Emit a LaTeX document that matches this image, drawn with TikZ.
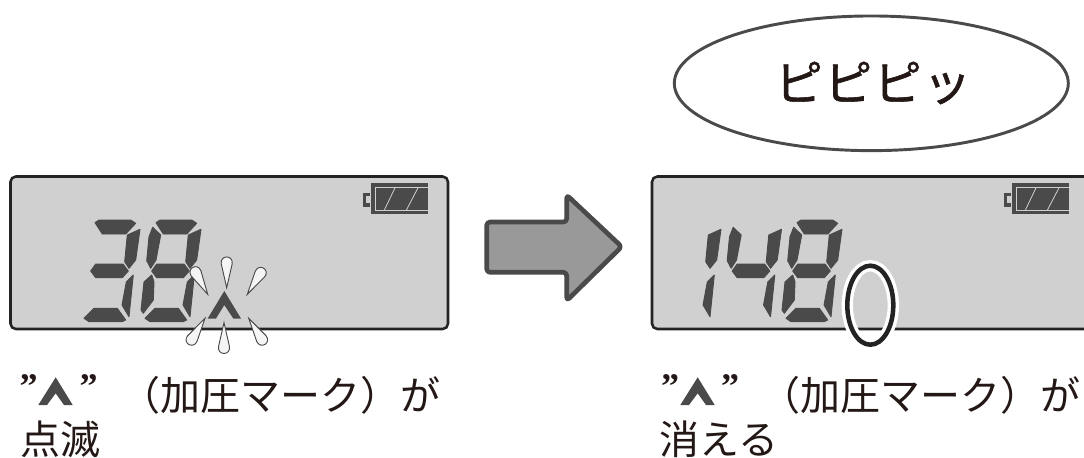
\documentclass[tikz,border=0pt]{standalone}
\usepackage{fontspec}
\usetikzlibrary{shapes.geometric}
\newfontfamily\jpfont{Noto Sans CJK JP}
\newfontfamily\jpbeep[FakeBold=1.2,LetterSpace=3]{Noto Sans CJK JP}
\newfontfamily\quotefont{Liberation Serif}

% Сегменты цифры (координаты в пикселях)
\def\segT{(156,222.7)--(160,220)--(191.7,220)--(196.7,223.3)--(186.7,234)--(163.3,234)--cycle}
\def\segUL{(152.7,227.3)--(160.7,235)--(156,260)--(150.7,268.3)--(146.7,260.7)--(149,236.7)--cycle}
\def\segUR{(201,229.3)--(196.7,260)--(190,268.3)--(185.7,261.7)--(188.3,235)--cycle}
\def\segM{(151.7,271)--(156.7,264)--(184,264)--(189.3,271)--(183.3,277.7)--(156.7,277.7)--cycle}
\def\segLL{(151.7,275)--(154,282)--(153.3,300)--(143.3,313.3)--(141,310)--(144,282)--cycle}
\def\segLR{(194.3,275)--(190,316.7)--(183,305)--(187.3,282)--cycle}
\def\segB{(145,318.3)--(155,308.3)--(178.3,308.3)--(186.7,320)--(183,321.7)--(150,321.7)--cycle}
\newcommand{\lcddigit}[2]{\foreach \s in {#2} \filldraw[lcdseg,shift={(#1,0)}] \csname seg\s\endcsname;}

\begin{document}
\begin{tikzpicture}[x=0.75pt,y=-0.75pt,
    lcdseg/.style={fill=lcddark,draw=lcddark,line width=0.7pt,line join=round},
    lcdpanel/.style={draw=linedark,line width=1.9pt,fill=lcdgray,rounded corners=4pt},
    label/.style={anchor=west,inner sep=0pt,text=textdark,font=\jpfont\fontsize{30pt}{30pt}\selectfont},
    quotemark/.style={inner sep=0pt,text=textdark,font=\quotefont\bfseries\fontsize{27pt}{27pt}\selectfont},
    dropmark/.style={draw=lcddark,line width=0.7pt,fill=dropwhite}]

    \definecolor{lcdgray}{RGB}{208,208,208}
    \definecolor{lcddark}{RGB}{74,74,74}
    \definecolor{linedark}{RGB}{35,35,35}
    \definecolor{textdark}{RGB}{35,24,21}
    \definecolor{dropwhite}{RGB}{245,245,245}
    \definecolor{arrowgray}{RGB}{153,153,153}

    \clip (0,0) rectangle (1084,457);

    % Левый дисплей
    \draw[lcdpanel] (10.5,176.5) rectangle (448,329);
    \lcddigit{-61}{T,UR,M,LR,B}
    \lcddigit{0}{T,UL,UR,M,LL,LR,B}

    % Правый дисплей
    \draw[lcdpanel] (652,176.5) rectangle (1110,329);
    \lcddigit{520}{UR,LR}
    \lcddigit{580.5}{UL,UR,M,LR}
    \lcddigit{641}{T,UL,UR,M,LL,LR,B}

    % Батарея
    \foreach \dx in {0,641} {
        \begin{scope}[shift={(\dx,0)}]
            \fill[lcddark] (371,183.3) rectangle (428,214.3);
            \fill[lcddark] (363.3,192.7) rectangle (370,206.7);
            \fill[lcdgray] (366,196) rectangle (370,203);
            \draw[lcdgray,line width=0.6pt] (428,187.8) -- (375,187.8) -- (375,210.8) -- (428,210.8);
            \draw[lcdgray,line width=0.6pt] (384,210.8) -- (395,187.8);
            \draw[lcdgray,line width=0.6pt] (406,210.8) -- (418,187.8);
        \end{scope}
    }

    % Значок и вспышки
    \fill[lcddark] (224.3,291) -- (241,318.5) -- (233.3,318.5) -- (224.3,305) -- (216,318.5) -- (207.7,318.5) -- cycle;
    \foreach \tx/\ty/\ang in {207.7/294.3/119,226.7/287.7/90,247.3/294.3/58,205/318.3/238,224/322.7/270,248.7/318.3/302}
        \draw[dropmark,shift={(\tx,\ty)},rotate=\ang] (0,0) -- (24,5.5) .. controls (33,6.5) and (33,-6.5) .. (24,-5.5) -- cycle;

    % Овал на дисплее
    \draw[white,line width=8.5pt] (870.3,305.2) ellipse (23 and 39.5);
    \draw[linedark,line width=3.4pt] (870.3,305.2) ellipse (23 and 39.5);

    % Большая стрелка
    \draw[draw=lcddark,line width=3.5pt,fill=arrowgray,line join=round,rounded corners=2.5pt]
        (486.7,222) -- (566.7,222) -- (566.7,195) -- (621.7,246.7) -- (566.7,300.7) -- (566.7,272.3) -- (486.7,272.3) -- cycle;

    % Звук
    \node[draw=lcddark,line width=2.2pt,fill=white,ellipse,minimum width=295.5pt,minimum height=101pt,inner sep=0pt] (beep) at (871.3,83.3) {};
    \node[inner sep=0pt,text=textdark,font=\jpbeep\fontsize{36pt}{36pt}\selectfont] (beeptext) at (873,83) {ピピピッ};

    % Подписи
    \fill[lcddark] (55.7,377.3) -- (72.7,405) -- (64,405) -- (55.7,393.3) -- (47,405) -- (38.3,405) -- cycle;
    \fill[lcddark] (697.7,377.3) -- (714.7,405) -- (706,405) -- (697.7,393.3) -- (689,405) -- (680.3,405) -- cycle;
    \foreach \qx in {28.5,88.5,670,730}
        \node[quotemark] (q\qx) at (\qx,387) {”};
    \node[label] (leftone) at (120,395) {（加圧マーク）が};
    \node[label] (lefttwo) at (20.5,439) {点滅};
    \node[label] (rightone) at (760,395) {（加圧マーク）が};
    \node[label] (righttwo) at (659,439) {消える};
\end{tikzpicture}
\end{document}
